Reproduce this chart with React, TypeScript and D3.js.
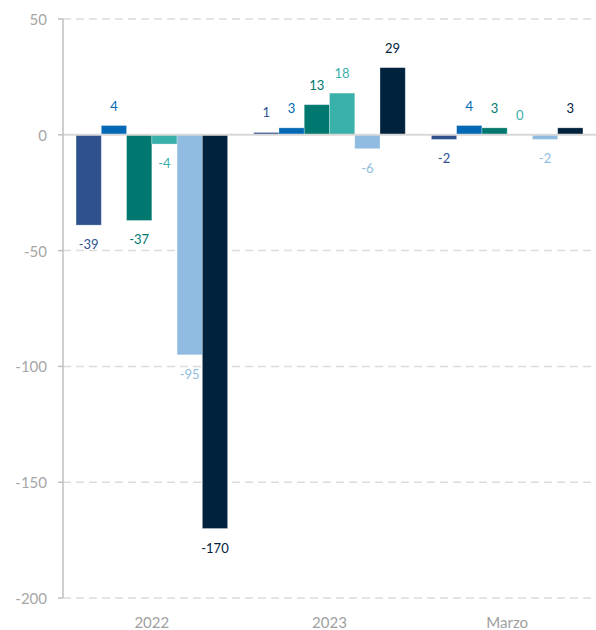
import React from "react";
import * as d3 from "d3";

const categories = ["2022", "2023", "Marzo"];
const seriesNames = ["S1", "S2", "S3", "S4", "S5", "S6"];
const seriesColors = ["#2F528F", "#0068B5", "#00786F", "#3AB0AA", "#8FBCE0", "#00223D"];
const values: number[][] = [
  [-39, 4, -37, -4, -95, -170],
  [1, 3, 13, 18, -6, 29],
  [-2, 4, 3, 0, -2, 3],
];
const yTicks = [50, 0, -50, -100, -150, -200];

const W = 596;
const H = 630;
const left = 63;
const right = 596;
const top = 19;
const bottom = 598;

export default function App() {
  const x0 = d3.scaleBand<string>().domain(categories).range([left, right]).paddingInner(0.147).paddingOuter(0.0735);
  const x1 = d3.scaleBand<string>().domain(seriesNames).range([0, x0.bandwidth()]);
  const y = d3.scaleLinear().domain([-200, 50]).range([bottom, top]);
  const font = "Lato, 'Open Sans', sans-serif";

  return (
    <svg width={W} height={H} style={{ position: "absolute", left: 0, top: 0, background: "#fff" }}>
      {yTicks.map((t) => (
        <g key={t}>
          {t !== 0 && (
            <line x1={left} x2={right} y1={y(t)} y2={y(t)} stroke="#dcdcdc" strokeWidth={1.5} strokeDasharray="8,5" />
          )}
          <line x1={left - 5} x2={left} y1={y(t)} y2={y(t)} stroke="#bfbfbf" strokeWidth={1.5} />
          <text x={47} y={y(t)} textAnchor="end" dominantBaseline="central" fontSize={15} fill="#a6a6a6" fontFamily={font}>
            {t}
          </text>
        </g>
      ))}
      {categories.map((c, ci) => (
        <g key={c} transform={`translate(${x0(c)},0)`}>
          {values[ci].map((v, si) => {
            const bx = x1(seriesNames[si])!;
            const bw = x1.bandwidth();
            const y0 = y(0);
            const yv = y(v);
            const lblY = v >= 0 ? yv - 20 : yv + 19;
            return (
              <g key={si}>
                <rect
                  x={bx}
                  y={Math.min(y0, yv)}
                  width={bw}
                  height={Math.abs(yv - y0)}
                  fill={seriesColors[si]}
                  stroke="#ffffff"
                  strokeOpacity={0.35}
                  strokeWidth={0.8}
                />
                <text
                  x={bx + bw / 2}
                  y={lblY}
                  textAnchor="middle"
                  dominantBaseline="central"
                  fontSize={13}
                  fill={seriesColors[si]}
                  fontFamily={font}
                >
                  {v}
                </text>
              </g>
            );
          })}
          <text
            x={x0.bandwidth() / 2}
            y={622}
            textAnchor="middle"
            dominantBaseline="central"
            fontSize={15}
            fill="#a0a0a0"
            fontFamily={font}
          >
            {c}
          </text>
        </g>
      ))}
      <line x1={left} x2={right} y1={y(0)} y2={y(0)} stroke="#d9d9d9" strokeWidth={2} />
      <line x1={left} x2={left} y1={top} y2={bottom} stroke="#bfbfbf" strokeWidth={1.5} />
    </svg>
  );
}
